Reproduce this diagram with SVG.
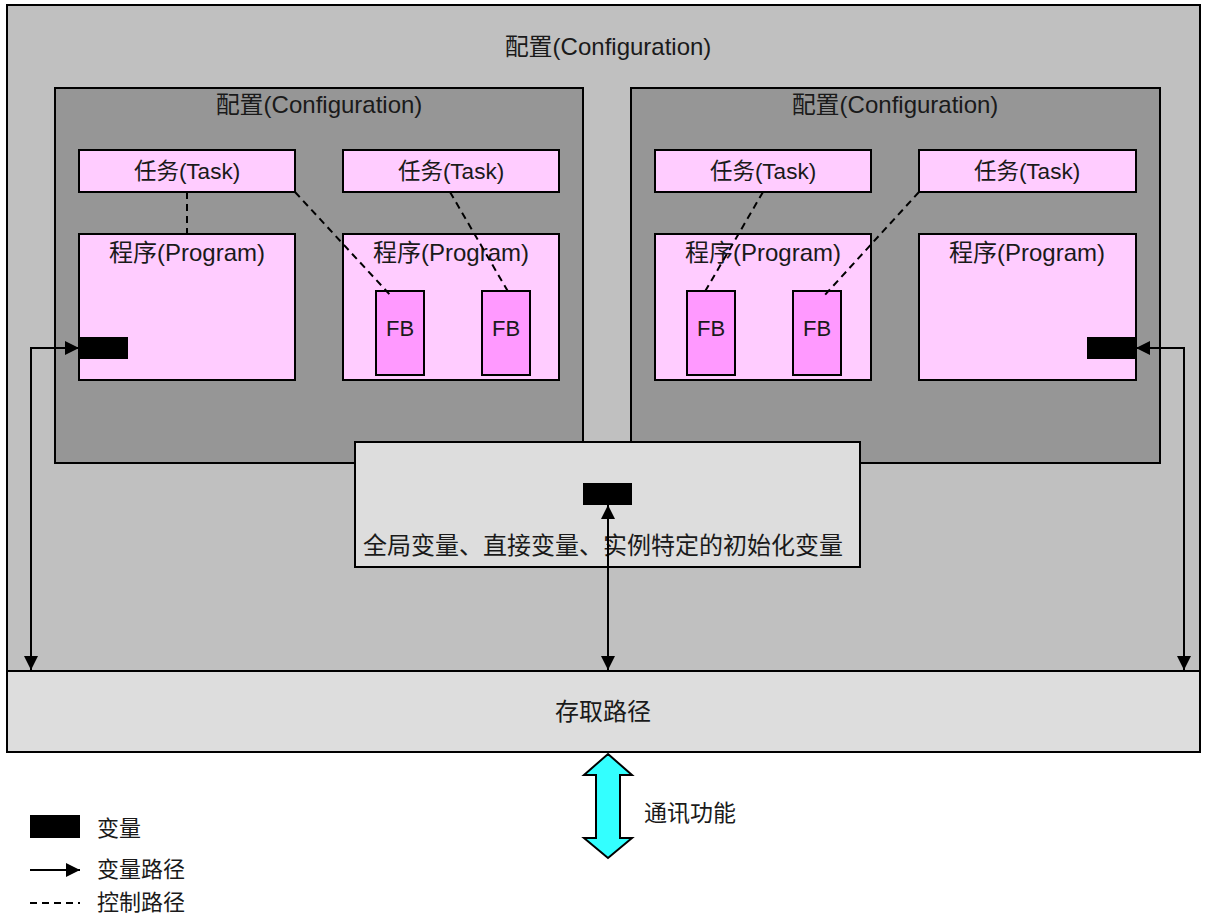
<svg xmlns="http://www.w3.org/2000/svg" width="1207" height="914" viewBox="0 0 1207 914">
<style>
text{font-family:"Liberation Sans","Noto Sans CJK SC",sans-serif;fill:#1a1a1a}
.t24{font-size:24px;text-anchor:middle}
.t22{font-size:22.5px;text-anchor:middle}
.fbt{font-size:22px;text-anchor:middle}
.outer{fill:#C0C0C0;stroke:#000;stroke-width:2}
.cfg{fill:#969696;stroke:#000;stroke-width:2}
.pink{fill:#FFCCFF;stroke:#000;stroke-width:2}
.fb{fill:#FF99FF;stroke:#000;stroke-width:2}
.light{fill:#DDDDDD;stroke:#000;stroke-width:2}
.var{fill:#000}
.ctl{stroke:#000;stroke-width:2;stroke-dasharray:7,5;fill:none}
.vp{stroke:#000;stroke-width:2;fill:none}
</style>
<defs>
<marker id="ah" viewBox="0 0 10 10" refX="10" refY="5" markerWidth="7" markerHeight="7" markerUnits="strokeWidth" orient="auto-start-reverse">
<path d="M0,0 L10,5 L0,10 z" fill="#000"/>
</marker>
</defs>
<rect width="1207" height="914" fill="#fff"/>
<g id="outer-config">
<rect class="outer" x="7" y="5" width="1193" height="747"/>
<text class="t24" x="608" y="55">配置(Configuration)</text>
</g>
<g id="config-left">
<rect class="cfg" x="55" y="88" width="528" height="375"/>
<text class="t24" x="319" y="113">配置(Configuration)</text>
</g>
<g id="config-right">
<rect class="cfg" x="631" y="88" width="529" height="375"/>
<text class="t24" x="895" y="113">配置(Configuration)</text>
</g>
<g id="task1"><rect class="pink" x="79" y="150" width="216" height="42"/><text class="t22" x="187" y="179">任务(Task)</text></g>
<g id="task2"><rect class="pink" x="343" y="150" width="216" height="42"/><text class="t22" x="451" y="179">任务(Task)</text></g>
<g id="task3"><rect class="pink" x="655" y="150" width="216" height="42"/><text class="t22" x="763" y="179">任务(Task)</text></g>
<g id="task4"><rect class="pink" x="919" y="150" width="217" height="42"/><text class="t22" x="1027" y="179">任务(Task)</text></g>
<g id="program1"><rect class="pink" x="79" y="234" width="216" height="146"/><text class="t24" x="187" y="261">程序(Program)</text></g>
<g id="program2"><rect class="pink" x="343" y="234" width="216" height="146"/><text class="t24" x="451" y="261">程序(Program)</text></g>
<g id="program3"><rect class="pink" x="655" y="234" width="216" height="146"/><text class="t24" x="763" y="261">程序(Program)</text></g>
<g id="program4"><rect class="pink" x="919" y="234" width="217" height="146"/><text class="t24" x="1027" y="261">程序(Program)</text></g>
<g id="fb1"><rect class="fb" x="376" y="291" width="48" height="84"/><text class="fbt" x="400" y="336">FB</text></g>
<g id="fb2"><rect class="fb" x="482" y="291" width="48" height="84"/><text class="fbt" x="506" y="336">FB</text></g>
<g id="fb3"><rect class="fb" x="687" y="291" width="48" height="84"/><text class="fbt" x="711" y="336">FB</text></g>
<g id="fb4"><rect class="fb" x="793" y="291" width="48" height="84"/><text class="fbt" x="817" y="336">FB</text></g>
<g id="global-vars">
<rect class="light" x="355" y="442" width="505" height="125"/>
<text class="t24" x="603" y="554">全局变量、直接变量、实例特定的初始化变量</text>
</g>
<g id="access-path">
<rect class="light" x="7" y="671" width="1193" height="81"/>
<text class="t24" x="603" y="720">存取路径</text>
</g>
<g id="var-left"><rect class="var" x="79" y="337" width="49" height="22"/></g>
<g id="var-right"><rect class="var" x="1087" y="337" width="49" height="22"/></g>
<g id="var-global"><rect class="var" x="583" y="483" width="49" height="22"/></g>
<g id="connectors">
<line class="ctl" x1="187" y1="192" x2="187" y2="234"/>
<line class="ctl" x1="295" y1="192" x2="392" y2="297"/>
<line class="ctl" x1="450" y1="192" x2="510" y2="295"/>
<line class="ctl" x1="763" y1="192" x2="703" y2="295"/>
<line class="ctl" x1="919" y1="192" x2="823" y2="297"/>
<polyline class="vp" points="31,670 31,348 79,348" marker-start="url(#ah)" marker-end="url(#ah)"/>
<polyline class="vp" points="1184,670 1184,348 1136,348" marker-start="url(#ah)" marker-end="url(#ah)"/>
<line class="vp" x1="608" y1="505" x2="608" y2="670" marker-start="url(#ah)" marker-end="url(#ah)"/>
</g>
<g id="comm">
<path d="M608,754 L632,775 L620,775 L620,838 L632,838 L608,858 L584,838 L596,838 L596,775 L584,775 Z" fill="#33FFFF" stroke="#000" stroke-width="2"/>
<text x="644" y="821" style="font-size:23px">通讯功能</text>
</g>
<g id="legend">
<rect class="var" x="30" y="815" width="50" height="23"/>
<text x="97" y="836" style="font-size:22px">变量</text>
<line class="vp" x1="30" y1="870" x2="80" y2="870" marker-end="url(#ah)"/>
<text x="97" y="877" style="font-size:22px">变量路径</text>
<line class="ctl" x1="30" y1="903" x2="80" y2="903" style="stroke-dasharray:7,5"/>
<text x="97" y="910" style="font-size:22px">控制路径</text>
</g>
</svg>
